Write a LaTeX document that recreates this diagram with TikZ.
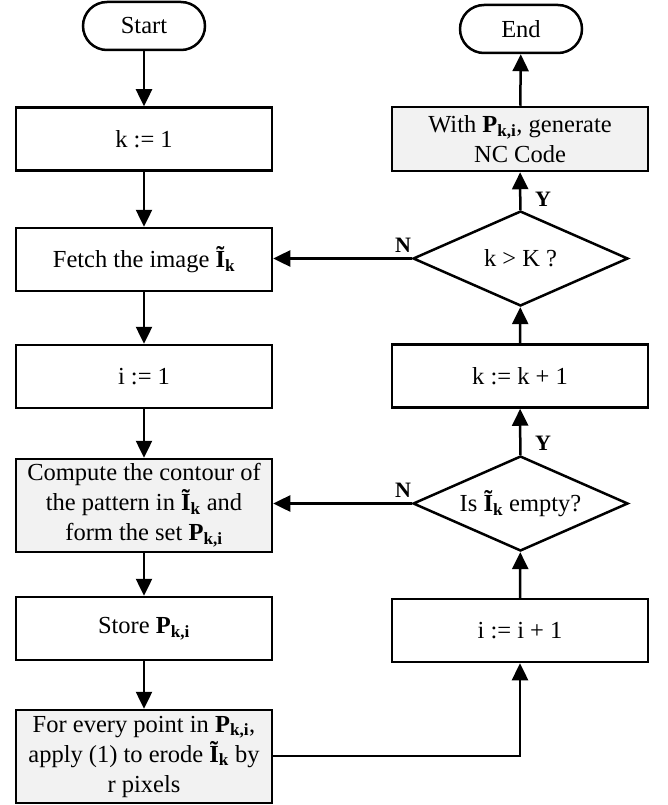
\documentclass[tikz,border=0pt]{standalone}
\usepackage{fontspec}
\setmainfont{Liberation Serif}
\usetikzlibrary{shapes.geometric,arrows.meta}
\newcommand{\Pki}{\textbf{P}\textsubscript{\textbf{k,i}}}
\newcommand{\Ik}{\textbf{Ĩ}\textsubscript{\textbf{k}}}
\definecolor{boxgray}{HTML}{F2F2F2}
\begin{document}
\begin{tikzpicture}[x=1pt,y=-1pt,
  every node/.style={font=\fontsize{24.5}{30}\selectfont, line width=2.5pt, inner sep=0pt, align=center},
  proc/.style={draw, rectangle, minimum width=256pt, minimum height=63pt},
  procg/.style={proc, fill=boxgray},
  term/.style={draw, rectangle, rounded corners=24pt, minimum width=122pt, minimum height=48pt},
  dec/.style={draw, diamond, minimum width=215pt, minimum height=95pt, aspect=2.26},
  lbl/.style={font=\fontsize{22}{24}\selectfont\bfseries},
  conn/.style={line width=2.5pt, -{Triangle[length=17pt,width=16pt]}}
]
\useasboundingbox (0,0) rectangle (667,805);
% left column
\node[term] (start) at (144,26) {Start};
\node[proc] (k1) at (144,139) {k := 1};
\node[proc] (fetch) at (144,259.5) {Fetch the image \Ik};
\node[proc] (i1) at (144,376.5) {i := 1};
\node[procg, minimum height=93pt] (comp) at (144,505.5) {Compute the contour of\\the pattern in \Ik{} and\\form the set \Pki};
\node[proc] (store) at (144,628.5) {Store \Pki};
\node[procg, minimum height=93pt] (erode) at (144,756.5) {For every point in \Pki,\\apply (1) to erode \Ik{} by\\r pixels};
% right column
\node[term] (end) at (521,29) {End};
\node[procg, minimum height=64pt] (nc) at (520,139) {With \Pki, generate\\NC Code};
\node[dec] (dk) at (520.5,258.5) {k > K ?};
\node[proc] (kk) at (520,376) {k := k + 1};
\node[dec] (de) at (520.5,503.5) {Is \Ik{} empty?};
\node[proc] (ii) at (520,630.5) {i := i + 1};
\coordinate (turn) at (520,756);
% connectors
\draw[conn] (start) -- (k1);
\draw[conn] (k1) -- (fetch);
\draw[conn] (fetch) -- (i1);
\draw[conn] (i1) -- (comp);
\draw[conn] (comp) -- (store);
\draw[conn] (store) -- (erode);
\draw[conn] (erode.east |- turn) -- (turn) -- (ii.south);
\draw[conn] (ii) -- (de);
\draw[conn] (de) -- (kk);
\draw[conn] (kk) -- (dk);
\draw[conn] (dk) -- (nc);
\draw[conn] (nc) -- (end);
\draw[conn] (dk.west) -- (dk.west -| fetch.east);
\draw[conn] (de.west) -- (de.west -| comp.east);
% labels
\node[lbl] (n1) at (403,245) {N};
\node[lbl] (y1) at (543,199) {Y};
\node[lbl] (n2) at (403,490) {N};
\node[lbl] (y2) at (543,443) {Y};
\end{tikzpicture}
\end{document}
